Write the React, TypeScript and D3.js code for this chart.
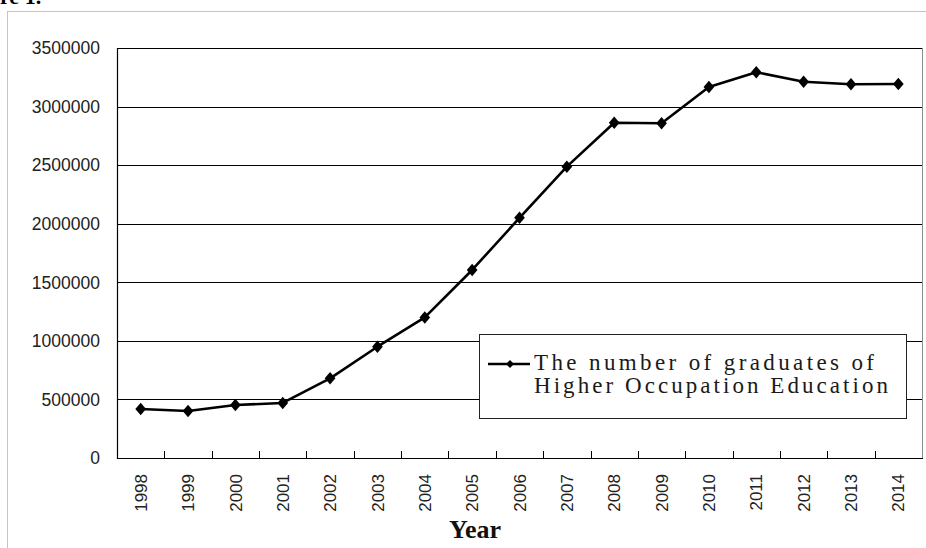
import { useEffect, useRef } from 'react';
import * as d3 from 'd3';

const years = ['1998', '1999', '2000', '2001', '2002', '2003', '2004', '2005', '2006', '2007', '2008', '2009', '2010', '2011', '2012', '2013', '2014'];
const graduates = [418000, 401000, 452000, 470000, 680000, 950000, 1200000, 1605000, 2050000, 2487000, 2862000, 2857000, 3167000, 3293000, 3212000, 3190000, 3193000];
const yTicks = [0, 500000, 1000000, 1500000, 2000000, 2500000, 3000000, 3500000];
const legendLines = ['The number of graduates of', 'Higher Occupation Education'];

const WIDTH = 926;
const HEIGHT = 548;
const plot = { left: 117, right: 922, top: 48, bottom: 458 };

export default function App() {
    const svgRef = useRef<SVGSVGElement | null>(null);

    useEffect(() => {
        if (!svgRef.current) {
            return;
        }
        const svg = d3.select(svgRef.current);
        svg.selectAll('*').remove();

        const x = d3.scaleBand<string>().domain(years).range([plot.left, plot.right]).padding(0);
        const y = d3.scaleLinear().domain([0, 3500000]).range([plot.bottom, plot.top]);
        const cx = (year: string) => (x(year) ?? 0) + x.bandwidth() / 2;

        // caption fragment cut off at the top, as in the source image
        svg.append('text')
            .text('re 1.')
            .attr('x', 0)
            .attr('y', 4)
            .attr('font-family', 'Liberation Serif')
            .attr('font-weight', 700)
            .attr('font-size', 22)
            .attr('fill', '#000');

        // outer frame
        svg.append('rect')
            .attr('x', 7.5)
            .attr('y', 11.5)
            .attr('width', WIDTH)
            .attr('height', HEIGHT)
            .attr('fill', 'none')
            .attr('stroke', '#c4c4c4');

        // plot frame (grey right/top)
        svg.append('rect')
            .attr('x', plot.left + 0.5)
            .attr('y', plot.top + 0.5)
            .attr('width', plot.right - plot.left)
            .attr('height', plot.bottom - plot.top)
            .attr('fill', 'none')
            .attr('stroke', '#8c8c8c');

        // gridlines
        svg.append('g')
            .selectAll('line')
            .data(yTicks.filter((t) => t > 0))
            .join('line')
            .attr('x1', plot.left)
            .attr('x2', plot.right)
            .attr('y1', (t) => Math.round(y(t)) + 0.5)
            .attr('y2', (t) => Math.round(y(t)) + 0.5)
            .attr('stroke', '#000')
            .attr('stroke-width', 1);

        // y labels
        svg.append('g')
            .selectAll('text')
            .data(yTicks)
            .join('text')
            .text((t) => String(t))
            .attr('x', 100)
            .attr('y', (t) => y(t))
            .attr('dy', '0.36em')
            .attr('text-anchor', 'end')
            .attr('font-family', 'Liberation Sans')
            .attr('font-size', 17.5)
            .attr('fill', '#222');

        // axes lines
        svg.append('line')
            .attr('x1', plot.left + 0.5)
            .attr('x2', plot.left + 0.5)
            .attr('y1', plot.top)
            .attr('y2', plot.bottom + 1)
            .attr('stroke', '#000')
            .attr('stroke-width', 1.2);
        svg.append('line')
            .attr('x1', plot.left)
            .attr('x2', plot.right + 1)
            .attr('y1', plot.bottom + 0.5)
            .attr('y2', plot.bottom + 0.5)
            .attr('stroke', '#000')
            .attr('stroke-width', 1.2);

        // x ticks at band edges, pointing inward
        svg.append('g')
            .selectAll('line')
            .data(years.slice(1))
            .join('line')
            .attr('x1', (d) => Math.round(x(d) ?? 0) + 0.5)
            .attr('x2', (d) => Math.round(x(d) ?? 0) + 0.5)
            .attr('y1', plot.bottom)
            .attr('y2', plot.bottom - 7)
            .attr('stroke', '#000');

        // x labels
        svg.append('g')
            .selectAll('text')
            .data(years)
            .join('text')
            .text((d) => d)
            .attr('transform', (d) => `translate(${cx(d)}, 474) rotate(-90)`)
            .attr('text-anchor', 'end')
            .attr('dy', '0.36em')
            .attr('font-family', 'Liberation Sans')
            .attr('font-size', 17)
            .attr('fill', '#222');

        svg.append('text')
            .text('Year')
            .attr('x', 475)
            .attr('y', 538)
            .attr('text-anchor', 'middle')
            .attr('font-family', 'Liberation Serif')
            .attr('font-weight', 700)
            .attr('font-size', 26)
            .attr('fill', '#111');

        // series
        const line = d3
            .line<number>()
            .x((_, i) => cx(years[i]))
            .y((v) => y(v));
        svg.append('path')
            .datum(graduates)
            .attr('d', line)
            .attr('fill', 'none')
            .attr('stroke', '#000')
            .attr('stroke-width', 2.6)
            .attr('stroke-linejoin', 'round');

        const diamond = d3.symbol().type(d3.symbolDiamond2).size(90);
        svg.append('g')
            .selectAll('path')
            .data(graduates)
            .join('path')
            .attr('d', diamond)
            .attr('transform', (v, i) => `translate(${cx(years[i])}, ${y(v)}) scale(0.9, 1.05)`)
            .attr('fill', '#000');

        // legend
        const legend = svg.append('g');
        legend.append('rect')
            .attr('x', 479.5)
            .attr('y', 334.5)
            .attr('width', 427)
            .attr('height', 84)
            .attr('fill', '#fff')
            .attr('stroke', '#222')
            .attr('stroke-width', 1);
        legend.append('line')
            .attr('x1', 488)
            .attr('x2', 530)
            .attr('y1', 364)
            .attr('y2', 364)
            .attr('stroke', '#000')
            .attr('stroke-width', 2.6);
        legend.append('path')
            .attr('d', d3.symbol().type(d3.symbolDiamond2).size(40)())
            .attr('transform', 'translate(510, 364)')
            .attr('fill', '#000');
        legend.selectAll('text.legend-line')
            .data(legendLines)
            .join('text')
            .attr('class', 'legend-line')
            .text((d) => d)
            .attr('x', 534)
            .attr('y', (_, i) => 370 + i * 23)
            .attr('textLength', (_, i) => (i === 0 ? 340 : 354))
            .attr('lengthAdjust', 'spacing')
            .attr('font-family', 'Liberation Serif')
            .attr('font-size', 23)
            .attr('fill', '#1a1a1a');
    }, []);

    return (
        <svg
            ref={svgRef}
            width={WIDTH}
            height={HEIGHT}
            style={{ position: 'absolute', left: 0, top: 0, background: '#fff' }}
            role="img"
            aria-label="Number of graduates of Higher Occupation Education by year"
        />
    );
}
